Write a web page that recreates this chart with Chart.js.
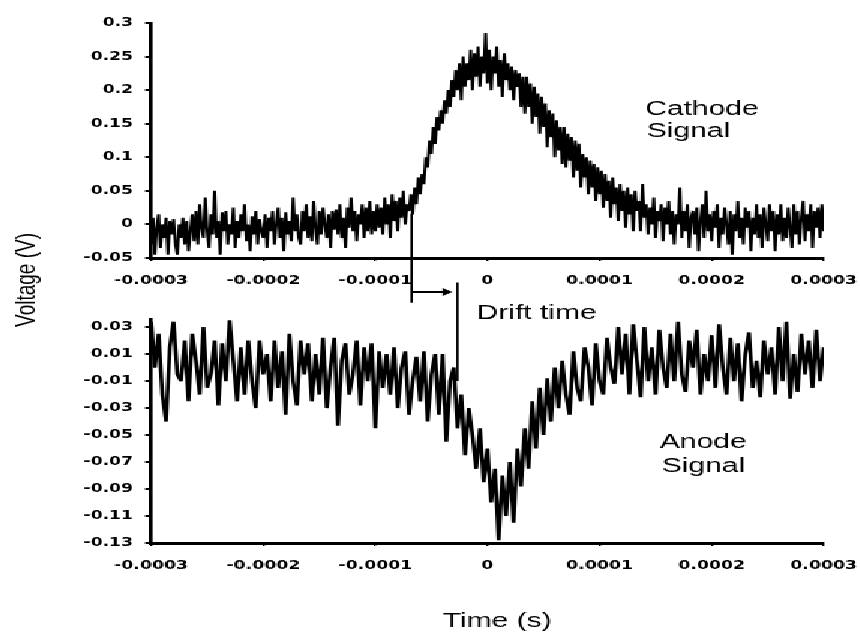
<!DOCTYPE html>
<html>
<head>
<meta charset="utf-8">
<title>Cathode and anode signals</title>
<script src="https://cdn.jsdelivr.net/npm/chart.js@4.4.1/dist/chart.umd.min.js"></script>
<style>
  html, body { margin: 0; padding: 0; background: #fff; }
  #wrap { position: relative; width: 860px; height: 632px; }
  #wrap canvas { position: absolute; left: 0; top: 0; image-rendering: pixelated; }
</style>
</head>
<body>
<div id="wrap">
  <canvas id="cathode" width="573" height="632" style="width:860px;height:632px"></canvas>
  <canvas id="anode" width="573" height="632" style="width:860px;height:632px"></canvas>
</div>
<script>
// Cathode voltage (V), 361 samples from -0.3 ms to +0.3 ms (20 per row)
const cathodeVolts = [
  -0.03, 0.01, -0.045, -0.005, 0.015, -0.035, 0.0, -0.02, 0.01, -0.045, 0.005, -0.015, 0.008, -0.03, -0.045, 0.0, -0.02, 0.01, -0.03, 0.005,
  -0.04, -0.01, 0.015, -0.025, 0.02, -0.03, 0.03, -0.005, -0.02, 0.04, -0.01, -0.035, 0.015, -0.015, 0.05, -0.02, 0.005, -0.045, 0.018, -0.01,
  0.02, -0.03, 0.0, -0.015, 0.025, -0.035, 0.005, -0.02, 0.015, -0.01, 0.03, -0.025, 0.0, -0.04, 0.012, -0.015, 0.02, -0.03, 0.008, -0.01,
  -0.02, 0.015, -0.035, 0.01, -0.01, 0.02, -0.03, 0.0, 0.025, -0.02, 0.01, -0.04, 0.018, -0.015, 0.005, -0.025, 0.04, -0.01, 0.015, -0.02,
  -0.03, 0.02, -0.01, 0.03, -0.02, 0.012, -0.025, 0.035, -0.005, -0.03, 0.02, -0.015, 0.025, 0.0, -0.02, 0.015, -0.035, 0.02, -0.008, 0.022,
  -0.015, 0.03, -0.02, 0.01, -0.035, 0.025, -0.005, 0.04, -0.01, 0.02, -0.025, 0.015, 0.0, 0.03, -0.02, 0.025, -0.01, 0.035, -0.015, 0.02,
  -0.01, 0.03, -0.005, 0.025, -0.015, 0.04, 0.0, 0.03, -0.02, 0.045, 0.005, 0.035, -0.01, 0.04, 0.01, 0.05, 0.0, 0.03, 0.02, 0.045,
  0.015, 0.055, 0.03, 0.07, 0.045, 0.075, 0.06, 0.1, 0.085, 0.125, 0.105, 0.145, 0.12, 0.16, 0.14, 0.17, 0.15, 0.185, 0.165, 0.2,
  0.175, 0.215, 0.19, 0.23, 0.2, 0.24, 0.185, 0.25, 0.205, 0.24, 0.215, 0.26, 0.2, 0.255, 0.22, 0.265, 0.205, 0.25, 0.225, 0.285,
  0.21, 0.26, 0.2, 0.25, 0.225, 0.265, 0.205, 0.245, 0.19, 0.255, 0.215, 0.24, 0.2, 0.235, 0.185, 0.23, 0.205, 0.225, 0.175, 0.22,
  0.165, 0.22, 0.175, 0.21, 0.15, 0.205, 0.16, 0.195, 0.135, 0.19, 0.145, 0.18, 0.115, 0.17, 0.13, 0.165, 0.1, 0.155, 0.11, 0.145,
  0.09, 0.145, 0.085, 0.135, 0.095, 0.13, 0.07, 0.125, 0.08, 0.12, 0.055, 0.105, 0.07, 0.1, 0.045, 0.095, 0.055, 0.09, 0.035, 0.085,
  0.045, 0.08, 0.025, 0.075, 0.035, 0.065, 0.01, 0.07, 0.03, 0.055, 0.005, 0.06, 0.02, 0.05, -0.005, 0.055, 0.015, 0.045, -0.01, 0.05,
  0.02, 0.035, -0.01, 0.06, 0.01, 0.03, -0.015, 0.025, 0.0, 0.04, -0.02, 0.02, 0.005, 0.03, -0.025, 0.025, 0.0, 0.035, -0.015, 0.02,
  -0.03, 0.015, 0.0, 0.055, -0.02, 0.02, -0.01, 0.03, -0.035, 0.01, 0.02, -0.015, 0.025, -0.04, 0.005, 0.03, -0.02, 0.05, -0.01, 0.015,
  -0.025, 0.02, -0.005, 0.03, -0.035, 0.01, -0.015, 0.025, 0.0, -0.03, 0.02, -0.045, 0.015, -0.01, 0.035, -0.02, 0.01, -0.03, 0.025, -0.005,
  0.02, -0.04, 0.01, -0.015, 0.03, -0.02, 0.015, -0.035, 0.025, 0.0, -0.025, 0.03, -0.01, 0.02, -0.04, 0.015, -0.015, 0.03, -0.025, 0.01,
  -0.02, 0.025, -0.005, -0.035, 0.03, -0.015, 0.02, -0.03, 0.01, 0.035, -0.025, 0.015, -0.01, 0.03, -0.035, 0.02, -0.005, 0.025, -0.02, 0.03,
  -0.01
];

// Anode voltage (V), 181 samples over the same window (10 per row)
const anodeVolts = [
  0.034, 0.0, 0.025, -0.02, -0.04, 0.015, 0.034, -0.005, -0.01, 0.02,
  -0.025, 0.025, 0.005, -0.02, 0.03, -0.015, -0.005, 0.02, -0.028, 0.018,
  -0.01, 0.035, 0.005, -0.025, 0.015, -0.02, 0.02, -0.01, -0.03, 0.02,
  -0.005, 0.01, -0.025, 0.02, -0.015, 0.012, -0.035, 0.025, -0.01, -0.028,
  0.02, -0.005, 0.018, -0.025, 0.01, -0.02, 0.022, -0.03, 0.0, 0.022,
  -0.043, 0.005, 0.018, -0.02, -0.005, 0.02, -0.028, 0.015, -0.01, 0.018,
  -0.045, 0.012, -0.015, 0.01, -0.02, 0.015, -0.03, 0.0, 0.012, -0.035,
  -0.01, 0.008, -0.025, 0.012, -0.04, -0.005, 0.01, -0.035, 0.01, -0.055,
  -0.01, 0.0, -0.045, -0.02, -0.065, -0.03, -0.05, -0.075, -0.045, -0.085,
  -0.06, -0.1, -0.075, -0.128, -0.08, -0.11, -0.07, -0.115, -0.06, -0.088,
  -0.045, -0.075, -0.025, -0.06, -0.015, -0.05, -0.008, -0.04, 0.0, -0.03,
  0.005, -0.02, -0.035, 0.012, -0.015, -0.025, 0.015, 0.0, -0.028, 0.018,
  -0.01, -0.02, 0.022, 0.0, -0.012, 0.03, -0.005, 0.025, -0.02, 0.032,
  0.005, -0.022, 0.03, -0.01, 0.015, -0.02, 0.028, 0.0, -0.015, 0.025,
  -0.01, 0.034, -0.005, -0.018, 0.02, 0.0, 0.028, -0.02, 0.01, -0.01,
  0.024, -0.015, 0.032, 0.0, -0.02, 0.022, -0.01, 0.018, -0.025, 0.01,
  0.026, -0.015, 0.005, -0.022, 0.02, -0.005, 0.015, -0.02, 0.03, -0.01,
  0.034, -0.023, 0.01, -0.018, 0.025, -0.005, 0.02, -0.015, 0.028, -0.01,
  0.015
];

const startTime = -0.0003;
const windowLength = 0.0006;

const timeTicks = [-0.0003, -0.0002, -0.0001, 0, 0.0001, 0.0002, 0.0003];
const timeTickLabels = ['-0.0003', '-0.0002', '-0.0001', '0', '0.0001', '0.0002', '0.0003'];
const cathodeTicks = [-0.05, 0, 0.05, 0.1, 0.15, 0.2, 0.25, 0.3];
const cathodeTickLabels = ['-0.05', '0', '0.05', '0.1', '0.15', '0.2', '0.25', '0.3'];
const anodeTicks = [-0.13, -0.11, -0.09, -0.07, -0.05, -0.03, -0.01, 0.01, 0.03];
const anodeTickLabels = ['-0.13', '-0.11', '-0.09', '-0.07', '-0.05', '-0.03', '-0.01', '0.01', '0.03'];

// drift time marker: from the start of the cathode rise to the start of the anode dip
const driftTimes = [-0.0000677, -0.0000267];

const tickFont = { family: '"DejaVu Sans", sans-serif', size: 11.5, weight: 'bold' };
const textFamily = '"Liberation Sans", Arial, sans-serif';

function toPoints(volts) {
  const step = windowLength / (volts.length - 1);
  return volts.map((v, i) => ({ x: startTime + i * step, y: v }));
}

function timeAxis() {
  return {
    type: 'linear',
    min: -0.0003,
    max: 0.0003,
    afterBuildTicks: axis => { axis.ticks = timeTicks.map(v => ({ value: v })); },
    afterFit: axis => {
      axis.height = 30;
      // end labels may hang past the plot edges
      axis.paddingLeft = 0;
      axis.paddingRight = 0;
    },
    ticks: {
      autoSkip: false,
      maxRotation: 0,
      padding: 13,
      color: '#000',
      font: tickFont,
      callback: (v, i) => timeTickLabels[i]
    },
    grid: { drawOnChartArea: false, tickLength: 3, color: '#000', lineWidth: 1.4 },
    border: { color: '#000', width: 3 }
  };
}

function voltAxis(min, max, ticks, labels) {
  return {
    type: 'linear',
    min: min,
    max: max,
    afterBuildTicks: axis => { axis.ticks = ticks.map(v => ({ value: v })); },
    afterFit: axis => { axis.width = 100.6; },
    ticks: {
      autoSkip: false,
      padding: 8,
      color: '#000',
      font: tickFont,
      callback: (v, i) => labels[i]
    },
    grid: { drawOnChartArea: false, tickLength: 4, color: '#000', lineWidth: 2 },
    border: { color: '#000', width: 2.6 }
  };
}

function panelOptions(yAxis, padding) {
  return {
    responsive: false,
    animation: false,
    events: [],
    layout: { padding: padding },
    plugins: { legend: { display: false }, tooltip: { enabled: false } },
    scales: { x: timeAxis(), y: yAxis }
  };
}

function signalDataset(volts, width) {
  return {
    data: toPoints(volts),
    borderColor: '#000',
    borderWidth: width,
    borderJoinStyle: 'bevel',
    pointRadius: 0,
    tension: 0,
    fill: false
  };
}

const cathodeText = {
  id: 'cathodeText',
  afterDraw(chart) {
    const ctx = chart.ctx;
    ctx.save();
    ctx.fillStyle = '#000';
    ctx.font = '20px ' + textFamily;
    ctx.textBaseline = 'alphabetic';
    ctx.fillText('Cathode', 430, 115);
    ctx.fillText('Signal', 431, 136.5);
    ctx.restore();
  }
};

const cathodeChart = new Chart(document.getElementById('cathode'), {
  type: 'line',
  data: { datasets: [signalDataset(cathodeVolts, 2.0)] },
  options: panelOptions(voltAxis(-0.05, 0.3, cathodeTicks, cathodeTickLabels),
    { top: 23, right: 24, bottom: 344, left: 0 }),
  plugins: [cathodeText]
});

const anodeText = {
  id: 'anodeText',
  afterDraw(chart) {
    const ctx = chart.ctx;
    const xs = chart.scales.x;
    const ys = chart.scales.y;
    const cy = cathodeChart.scales.y;
    const xa = xs.getPixelForValue(driftTimes[0]);
    const xb = xs.getPixelForValue(driftTimes[1]);
    const arrowY = ys.getPixelForValue(0.056);

    ctx.save();
    ctx.strokeStyle = '#000';
    ctx.fillStyle = '#000';
    ctx.lineWidth = 1.6;
    ctx.beginPath();
    ctx.moveTo(xa, cy.getPixelForValue(0.016));
    ctx.lineTo(xa, ys.getPixelForValue(0.048));
    ctx.moveTo(xb, ys.getPixelForValue(0.063));
    ctx.lineTo(xb, ys.getPixelForValue(-0.01));
    ctx.stroke();

    ctx.lineWidth = 2;
    ctx.beginPath();
    ctx.moveTo(xa, arrowY);
    ctx.lineTo(xb - 8, arrowY);
    ctx.stroke();

    ctx.beginPath();
    ctx.moveTo(xb - 3.3, arrowY);
    ctx.lineTo(xb - 10, arrowY - 4);
    ctx.lineTo(xb - 10, arrowY + 4);
    ctx.closePath();
    ctx.fill();

    ctx.font = '20px ' + textFamily;
    ctx.textBaseline = 'alphabetic';
    ctx.fillText('Drift time', 317.6, 318.5);
    ctx.fillText('Anode', 439.7, 448);
    ctx.fillText('Signal', 441, 471.5);
    ctx.fillText('Time (s)', 295, 626.5);

    ctx.font = '19px ' + textFamily;
    ctx.translate(23.3, 280);
    ctx.rotate(-Math.PI / 2);
    ctx.textAlign = 'center';
    ctx.fillText('Voltage (V)', 0, 0);
    ctx.restore();
  }
};

const anodeChart = new Chart(document.getElementById('anode'), {
  type: 'line',
  data: { datasets: [signalDataset(anodeVolts, 2.6)] },
  options: panelOptions(voltAxis(-0.13, 0.036, anodeTicks, anodeTickLabels),
    { top: 319, right: 24, bottom: 59, left: 0 }),
  plugins: [anodeText]
});
</script>
</body>
</html>
